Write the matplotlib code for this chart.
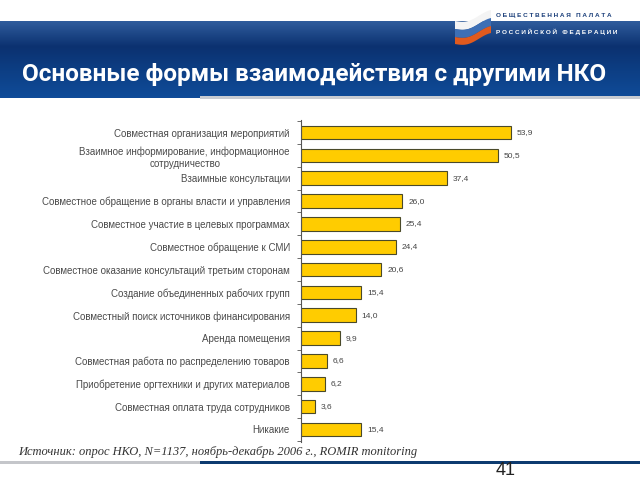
import matplotlib.pyplot as plt
import numpy as np
from matplotlib.patches import Rectangle, Polygon
from matplotlib.colors import LinearSegmentedColormap

# data
categories = [
    "Совместная организация мероприятий",
    "Взаимное информирование, информационное\nсотрудничество",
    "Взаимные консультации",
    "Совместное обращение в органы власти и управления",
    "Совместное участие в целевых программах",
    "Совместное обращение к СМИ",
    "Совместное оказание консультаций третьим сторонам",
    "Создание объединенных рабочих групп",
    "Совместный поиск источников финансирования",
    "Аренда помещения",
    "Совместная работа по распределению товаров",
    "Приобретение оргтехники и других материалов",
    "Совместная оплата труда сотрудников",
    "Никакие",
]
values = [53.9, 50.5, 37.4, 26.0, 25.4, 24.4, 20.6, 15.4, 14.0, 9.9, 6.6, 6.2, 3.6, 15.4]

title = "Основные формы взаимодействия с другими НКО"
source = "Источник: опрос НКО, N=1137, ноябрь-декабрь 2006 г., ROMIR monitoring"
page = "41"

plt.rcParams['font.family'] = ['Liberation Sans', 'DejaVu Sans']

fig = plt.figure(figsize=(6.4, 4.8), dpi=100)

# background / slide decoration in pixel coords
bg = fig.add_axes([0, 0, 1, 1])
bg.set_xlim(0, 640)
bg.set_ylim(480, 0)
bg.axis('off')

# blue header band, darker at top
grad = np.linspace(0, 1, 80).reshape(-1, 1)
cmap = LinearSegmentedColormap.from_list('band', ['#2f5c9c', '#0b3170', '#0d3f85', '#0f4b98'])
bg.imshow(grad, cmap=cmap, extent=(0, 640, 97, 21), aspect='auto', zorder=1)
bg.add_patch(Rectangle((200, 96), 440, 3, color='#c8ccd2', lw=0, zorder=2))
bg.add_patch(Rectangle((0, 96), 200, 2, color='#0f4b98', lw=0, zorder=2))

# footer line
bg.add_patch(Rectangle((0, 461), 200, 3, color='#c4c6ca', lw=0, zorder=2))
bg.add_patch(Rectangle((200, 461), 440, 3, color='#0d3b70', lw=0, zorder=2))

# logo flag
t = np.linspace(0, 1, 30)
def stripe(y0, h, color):
    xs = 455 + 36 * t
    ytop = y0 - 8 * t + 3 * np.sin(t * np.pi * 1.5)
    pts = np.column_stack([np.concatenate([xs, xs[::-1]]),
                           np.concatenate([ytop, (ytop + h)[::-1]])])
    bg.add_patch(Polygon(pts, closed=True, color=color, lw=0, zorder=3))
stripe(21, 8, '#f4f4f4')
stripe(29, 8, '#3d6fb5')
stripe(37, 7, '#e05a1e')

bg.text(496, 16, "О Б Щ Е С Т В Е Н Н А Я   П А Л А Т А", fontsize=4.6, fontweight='bold',
        color='#1b3f7a', va='center', ha='left', zorder=4)
bg.text(496, 32, "Р О С С И Й С К О Й   Ф Е Д Е Р А Ц И И", fontsize=4.6, fontweight='bold',
        color='white', va='center', ha='left', zorder=4)

bg.text(22, 75, title, fontsize=17.5, fontweight='bold', color='white', va='center', ha='left',
        family=['Roboto', 'DejaVu Sans'], zorder=4)

bg.text(18, 452, source, fontsize=9, style='italic', color='#333333', va='center', ha='left',
        family=['Liberation Serif', 'DejaVu Serif'], zorder=4)
bg.text(506, 479, page, fontsize=13, color='#222222', va='bottom', ha='center', zorder=4)

# chart
ax = fig.add_axes([301 / 640, 1 - 442 / 480, 234 / 640, 322 / 480])
y = np.arange(len(categories))
ax.barh(y, values, height=0.6, color='#ffcc00', edgecolor='#4a4a2a', linewidth=0.8)
ax.set_xlim(0, 60)
ax.set_ylim(len(categories) - 0.45, -0.55)
for yi, v in zip(y, values):
    ax.text(v + 1.5, yi, f"{v:.1f}".replace('.', ','), fontsize=6, color='#444444', va='center')

ax.set_yticks(y)
ax.set_yticklabels(categories, fontsize=7, color='#4a4a4a', multialignment='center',
                   linespacing=1.3)
ax.tick_params(axis='y', length=0, pad=8)
ax.set_yticks(np.arange(len(categories) + 1) - 0.5, minor=True)
ax.tick_params(axis='y', which='minor', length=3, color='#555555', width=0.6)
ax.set_xticks([])
for s in ['top', 'right', 'bottom']:
    ax.spines[s].set_visible(False)
ax.spines['left'].set_color('#555555')
ax.spines['left'].set_linewidth(0.8)
ax.patch.set_alpha(0)

fig.savefig('out.png', dpi=100)
